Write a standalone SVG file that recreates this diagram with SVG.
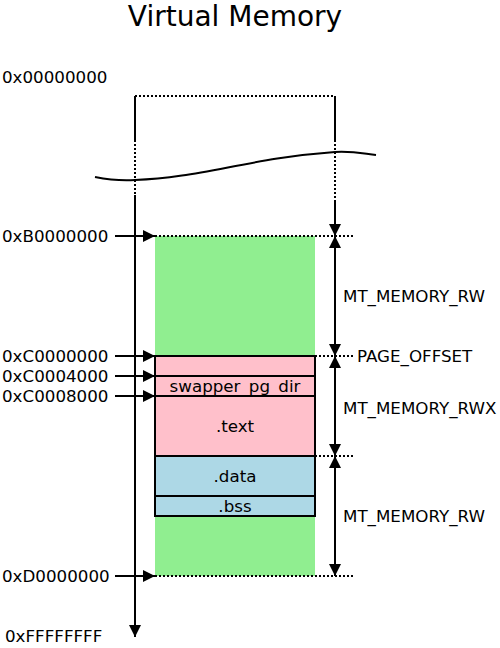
<svg xmlns="http://www.w3.org/2000/svg" width="500" height="648" viewBox="0 0 500 648">
<style>
text{font-family:"DejaVu Sans",sans-serif;font-size:16.7px;fill:#000}
.l{stroke:#000;stroke-width:2;fill:none}
.d{stroke:#000;stroke-width:2;stroke-dasharray:2,2;fill:none}
.m{text-anchor:middle}
</style>
<defs>
<marker id="a" viewBox="0 0 12 12" refX="12" refY="6" markerWidth="12" markerHeight="12" markerUnits="userSpaceOnUse" orient="auto-start-reverse"><path d="M0,0 L12,6 L0,12 z" fill="#000"/></marker>
</defs>
<rect width="500" height="648" fill="#fff"/>
<text x="235" y="26" class="m" style="font-size:28px">Virtual Memory</text>
<g id="regions">
<rect x="155" y="236" width="160" height="340" fill="#90ee90"/>
<g id="swapper"><rect x="155" y="356" width="160" height="100" class="l" style="fill:#ffc0cb"/>
<line x1="155" y1="376" x2="315" y2="376" class="l"/><line x1="155" y1="396" x2="315" y2="396" class="l"/>
<text x="235" y="392" class="m">swapper_pg_dir</text><text x="235" y="432" class="m">.text</text></g>
<g id="data"><rect x="155" y="456" width="160" height="40" class="l" style="fill:#add8e6"/><text x="235" y="482" class="m">.data</text></g>
<g id="bss"><rect x="155" y="496" width="160" height="20" class="l" style="fill:#add8e6"/><text x="235" y="512" class="m">.bss</text></g>
</g>
<g id="connectors">
<line x1="135" y1="96" x2="335" y2="96" class="d"/>
<line x1="135" y1="96" x2="135" y2="140" class="l"/>
<line x1="135" y1="140" x2="135" y2="195" class="d"/>
<line x1="135" y1="195" x2="135" y2="637" class="l" marker-end="url(#a)"/>
<line x1="335" y1="96" x2="335" y2="140" class="l"/>
<line x1="335" y1="140" x2="335" y2="200" class="d"/>
<line x1="335" y1="200" x2="335" y2="236" class="l" marker-end="url(#a)"/>
<path d="M95,177 C110,180 120,181 135,180 C200,178 250,158 335,152 C355,151 365,154 376,155" class="l"/>
<line x1="155" y1="236" x2="355" y2="236" class="d"/>
<line x1="315" y1="356" x2="355" y2="356" class="d"/>
<line x1="315" y1="456" x2="355" y2="456" class="d"/>
<line x1="155" y1="576" x2="355" y2="576" class="d"/>
<line x1="115" y1="236" x2="155" y2="236" class="l" marker-end="url(#a)"/>
<line x1="115" y1="356" x2="155" y2="356" class="l" marker-end="url(#a)"/>
<line x1="115" y1="376" x2="155" y2="376" class="l" marker-end="url(#a)"/>
<line x1="115" y1="396" x2="155" y2="396" class="l" marker-end="url(#a)"/>
<line x1="115" y1="576" x2="155" y2="576" class="l" marker-end="url(#a)"/>
<line x1="335" y1="236" x2="335" y2="356" class="l" marker-start="url(#a)" marker-end="url(#a)"/>
<line x1="335" y1="356" x2="335" y2="456" class="l" marker-start="url(#a)" marker-end="url(#a)"/>
<line x1="335" y1="456" x2="335" y2="576" class="l" marker-start="url(#a)" marker-end="url(#a)"/>
</g>
<g id="labels">
<text x="2" y="83">0x00000000</text>
<text x="2" y="242">0xB0000000</text>
<text x="2" y="362">0xC0000000</text>
<text x="2" y="382">0xC0004000</text>
<text x="2" y="402">0xC0008000</text>
<text x="2" y="582">0xD0000000</text>
<text x="5" y="642">0xFFFFFFFF</text>
<text x="343" y="302">MT_MEMORY_RW</text>
<text x="357" y="362">PAGE_OFFSET</text>
<text x="343" y="414">MT_MEMORY_RWX</text>
<text x="343" y="522">MT_MEMORY_RW</text>
</g>
</svg>
